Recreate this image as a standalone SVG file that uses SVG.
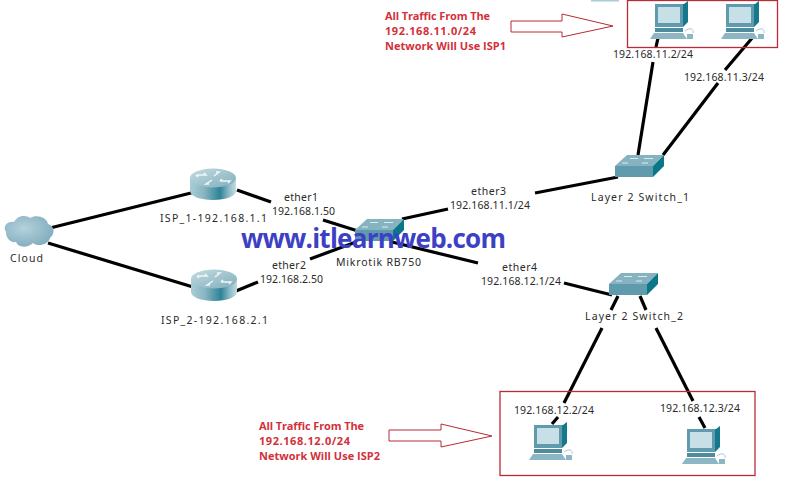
<svg xmlns="http://www.w3.org/2000/svg" xmlns:xlink="http://www.w3.org/1999/xlink" width="788" height="488" viewBox="0 0 788 488">
<style>
text{font-family:"Noto Sans","Liberation Sans",sans-serif;font-size:10.5px;fill:#2a2a2a}
.red{font-family:"Open Sans","Liberation Sans",sans-serif;font-size:11px;font-weight:700;fill:#d3303a}
.blue{font-family:"Open Sans","Liberation Sans",sans-serif;font-size:26px;font-weight:700;fill:#3c41c4}
.link{stroke:#000;stroke-width:3.200;fill:none}
.box{fill:none;stroke:#b92a35;stroke-width:1.300}
.arrow{fill:#fff;stroke:#b92a35;stroke-width:1}
</style>
<defs>
<linearGradient id="side" x1="0" x2="1" y1="0" y2="0"><stop offset="0" stop-color="#a9cdd6"/><stop offset=".3" stop-color="#8ab5c2"/><stop offset=".65" stop-color="#2f8398"/><stop offset=".85" stop-color="#8fbcc8"/><stop offset="1" stop-color="#c3dce2"/></linearGradient>
<linearGradient id="rtop" x1="0" x2="1" y1="0" y2="1"><stop offset="0" stop-color="#c4dce2"/><stop offset="1" stop-color="#7faebc"/></linearGradient>
<radialGradient id="cl" cx=".4" cy=".4" r=".7"><stop offset="0" stop-color="#b4d2dc"/><stop offset="1" stop-color="#7ea9bb"/></radialGradient>
<g id="router">
<path d="M0 9V22C0 27 10 31 23 31S46 27 46 22V9Z" fill="url(#side)"/>
<ellipse cx="23" cy="9" rx="23" ry="9.500" fill="url(#rtop)"/>
<path d="M6 6H16L14 4M6 6L8 8M30 12H40L38 14M30 12L32 10M24 7L29 3L26 3M22 11L16 15L19 15" stroke="#eef6f8" stroke-width="1.500" fill="none"/>
</g>
<g id="switch">
<path d="M12 0H49L38 11H0Z" fill="#87b2bf"/>
<path d="M0 11H38V22H0Z" fill="#5f9bad"/>
<path d="M38 11L49 0V11L38 22Z" fill="#0a7688"/>
<path d="M15 3.500H23M29 3.500H38M7 8H13M27 8H33" stroke="#dcebef" stroke-width="1.200"/>
</g>
<g id="pc">
<path d="M5 3L34 3L38 0V21L33 26H5Z" fill="#15788c"/>
<path d="M5 3H33V26H5Z" fill="#5f9bad"/>
<path d="M8 6H30V22H8Z" fill="#c7dfe6"/>
<path d="M5 27H33V31H5Z" fill="#4d8c9f"/>
<path d="M4 32H33L37 38H0Z" fill="#8cb6c3"/>
<path d="M35 30C40 26 44 28 43 32" fill="none" stroke="#a8c8d2"/>
<path d="M37 33H43V38H37Z" fill="#8cb6c3"/>
</g>
</defs>
<rect width="788" height="488" fill="#fff"/>
<rect x="591" y="0" width="28" height="1.500" fill="#a9cdd6"/>
<g id="connectors">
<path class="link" d="M50 228L195 192"/>
<path class="link" d="M48 243L193 287"/>
<path class="link" d="M237 190L271 202"/>
<path class="link" d="M323 220L358 231"/>
<path class="link" d="M236 291L258 282"/>
<path class="link" d="M310 259L356 242"/>
<path class="link" d="M402 219L448 209"/>
<path class="link" d="M535 193L618 177"/>
<path class="link" d="M392 242L478 263"/>
<path class="link" d="M564 283L612 295"/>
<path class="link" d="M618 296L611 310"/>
<path class="link" d="M602 328L564 403"/>
<path class="link" d="M558 417L552 424"/>
<path class="link" d="M640 296L646 310"/>
<path class="link" d="M656 328L693 401"/>
<path class="link" d="M699 417L705 428"/>
<path class="link" d="M638 155L653 62"/>
<path class="link" d="M658 38L656 47"/>
<path class="link" d="M663 155L718 83"/>
<path class="link" d="M725 70L753 37"/>
</g>
<g id="cloud">
<path d="M6 232C2 226 8 221 14 222C18 215 26 215 30 218C36 214 47 217 48 224C55 226 55 234 50 238C48 245 38 247 33 243C28 248 18 248 16 242C10 243 6 238 6 232Z" fill="url(#cl)"/>
<text x="10" y="262" textLength="33">Cloud</text>
</g>
<g id="isp1"><use href="#router" x="190" y="169"/><text x="160" y="222" textLength="107">ISP_1-192.168.1.1</text></g>
<g id="isp2"><use href="#router" x="191" y="270"/><text x="161" y="324" textLength="107">ISP_2-192.168.2.1</text></g>
<g id="mikrotik"><use href="#switch" x="355" y="219"/><text x="336" y="266" textLength="85">Mikrotik RB750</text></g>
<g id="switch1"><use href="#switch" x="615" y="155"/><text x="591" y="201" textLength="98">Layer 2 Switch_1</text></g>
<g id="switch2"><use href="#switch" x="609" y="273"/><text x="585" y="320" textLength="98">Layer 2 Switch_2</text></g>
<g id="pc1"><use href="#pc" x="650" y="1"/><text x="613" y="58" textLength="80">192.168.11.2/24</text></g>
<g id="pc2"><use href="#pc" x="721" y="1"/><text x="684" y="81" textLength="80">192.168.11.3/24</text></g>
<g id="pc3"><use href="#pc" x="529" y="422"/><text x="514" y="414" textLength="80">192.168.12.2/24</text></g>
<g id="pc4"><use href="#pc" x="682" y="426"/><text x="660" y="412" textLength="80">192.168.12.3/24</text></g>
<g id="labels">
<text x="284" y="201" textLength="34">ether1</text>
<text x="272" y="215" textLength="63">192.168.1.50</text>
<text x="272" y="269" textLength="34">ether2</text>
<text x="260" y="283" textLength="63">192.168.2.50</text>
<text x="471" y="195" textLength="35">ether3</text>
<text x="450" y="209" textLength="80">192.168.11.1/24</text>
<text x="502" y="271" textLength="35">ether4</text>
<text x="481" y="285" textLength="80">192.168.12.1/24</text>
</g>
<rect class="box" x="627.500" y="0.500" width="150" height="47"/>
<rect class="box" x="500" y="391.500" width="255" height="84"/>
<polygon class="arrow" points="511,21 562,21 562,14 613,26 562,37 562,32 511,32"/>
<polygon class="arrow" points="389,430 441,430 441,424 492,436 441,447 441,441 389,441"/>
<text class="red" x="385" y="20" textLength="105">All Traffic From The</text>
<text class="red" x="385" y="35" textLength="91">192.168.11.0/24</text>
<text class="red" x="385" y="50" textLength="121">Network Will Use ISP1</text>
<text class="red" x="259" y="430" textLength="105">All Traffic From The</text>
<text class="red" x="259" y="445" textLength="91">192.168.12.0/24</text>
<text class="red" x="259" y="460" textLength="121">Network Will Use ISP2</text>
<text class="blue" x="241" y="248" textLength="265">www.itlearnweb.com</text>
</svg>
